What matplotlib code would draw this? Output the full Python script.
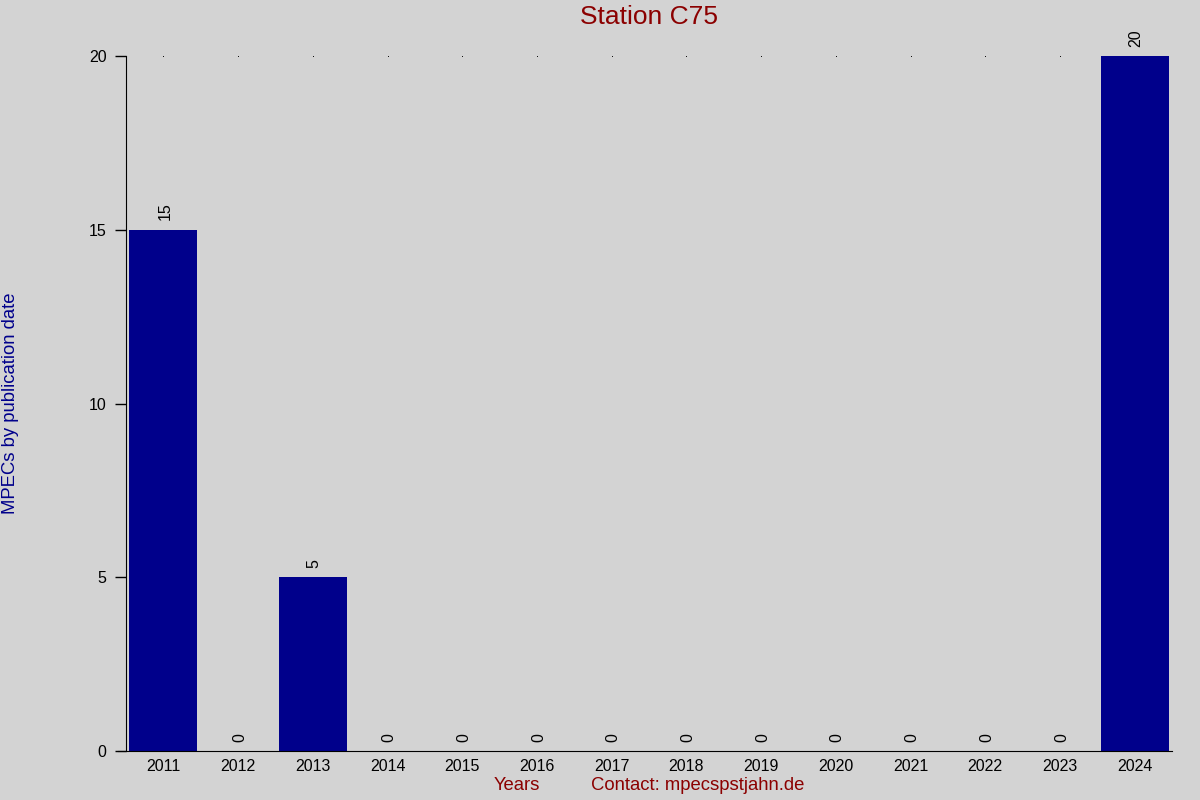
import matplotlib.pyplot as plt
import numpy as np

plt.rcParams['font.family'] = ['Liberation Sans', 'DejaVu Sans']

years = ['2011', '2012', '2013', '2014', '2015', '2016', '2017',
         '2018', '2019', '2020', '2021', '2022', '2023', '2024']
mpecs = [15, 0, 5, 0, 0, 0, 0, 0, 0, 0, 0, 0, 0, 20]

bg = '#d3d3d3'
fig = plt.figure(figsize=(12, 8), dpi=100, facecolor=bg)
ax = fig.add_axes([0.105, 0.06125, 0.8717, 0.86875], facecolor=bg)

x = np.arange(len(years))
ax.bar(x, mpecs, width=0.91, color='#00008b')

# tiny dots along the top of the chart
for xi, v in zip(x, mpecs):
    if v < 20:
        ax.plot(xi, 20, marker='s', markersize=0.6, markeredgewidth=0,
                color='black', clip_on=False)

for xi, v in zip(x, mpecs):
    ax.text(xi + 0.02, v + 0.27, str(v), rotation=90, ha='center', va='bottom', fontsize=11.5)

ax.set_xlim(-0.5, 13.5)
ax.set_ylim(0, 20)
ax.set_xticks(x)
ax.set_xticklabels(years, fontsize=11.5)
ax.set_yticks([0, 5, 10, 15, 20])
ax.tick_params(axis='x', length=0, pad=6)
ax.tick_params(axis='y', length=8, width=1, pad=6, labelsize=11.5)

ax.spines['top'].set_visible(False)
ax.spines['right'].set_visible(False)
ax.spines['bottom'].set_bounds(-0.61, 13.5)

fig.text(0.541, 0.979, 'Station C75', color='#8b0000', fontsize=19, ha='center', va='center')
fig.text(0.009, 0.496, 'MPECs by publication date', color='#00008b', fontsize=13.3,
         rotation=90, ha='center', va='center')
fig.text(0.431, 0.018, 'Years', color='#8b0000', fontsize=13.3, ha='center', va='center')
fig.text(0.581, 0.018, 'Contact: mpecspstjahn.de', color='#8b0000', fontsize=13.3,
         ha='center', va='center')

fig.savefig('out.png', dpi=100, facecolor=bg)
